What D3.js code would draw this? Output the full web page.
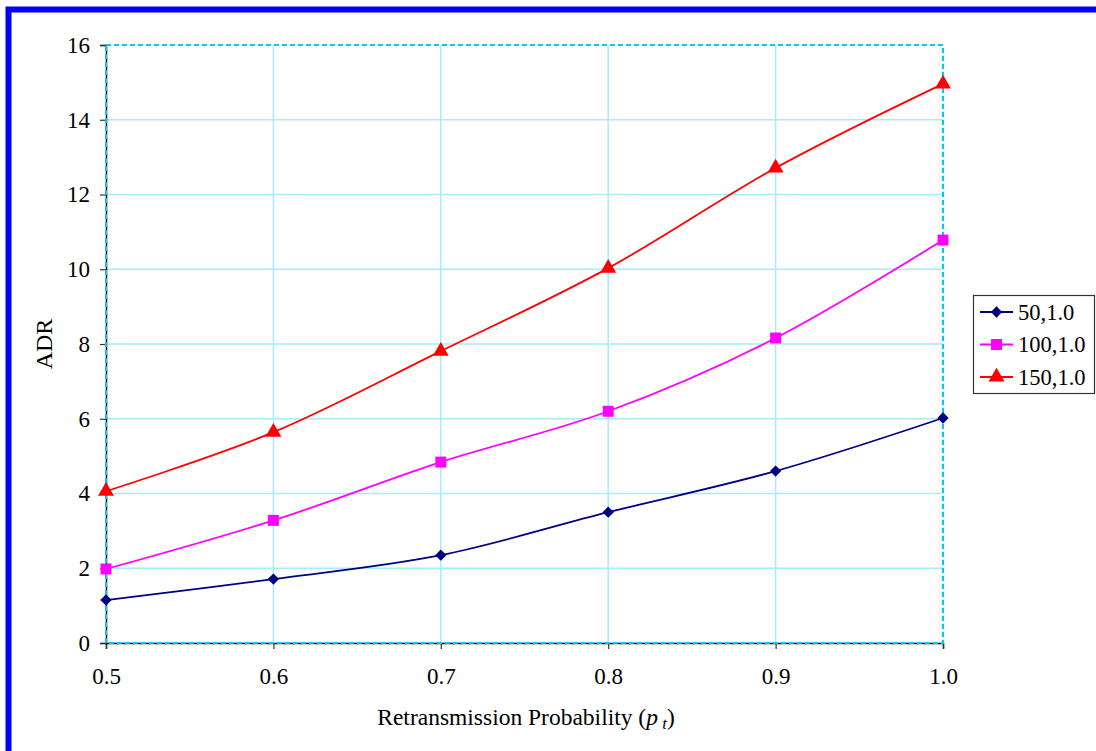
<!DOCTYPE html>
<html>
<head>
<meta charset="utf-8">
<script src="https://cdn.jsdelivr.net/npm/d3@7"></script>
<style>
  html, body { margin: 0; padding: 0; background: #fff; }
  svg { display: block; }
  text { font-family: "Liberation Serif", "Times New Roman", serif; fill: #000; }
</style>
</head>
<body>
<svg id="chart" width="1096" height="751"></svg>
<script>
// Retransmission probability values on the x axis
const probabilities = [0.5, 0.6, 0.7, 0.8, 0.9, 1.0];
// ADR for each configuration
const series50 = [1.15, 1.71, 2.35, 3.50, 4.60, 6.02];
const series100 = [1.98, 3.28, 4.84, 6.20, 8.16, 10.78];
const series150 = [4.06, 5.64, 7.81, 10.03, 12.71, 14.96];
const seriesNames = ["50,1.0", "100,1.0", "150,1.0"];
const xTicks = [0.5, 0.6, 0.7, 0.8, 0.9, 1.0];
const yTicks = [0, 2, 4, 6, 8, 10, 12, 14, 16];

const seriesList = [
  { name: seriesNames[0], values: series50, color: "#000080", shape: "diamond" },
  { name: seriesNames[1], values: series100, color: "#FF00FF", shape: "square" },
  { name: seriesNames[2], values: series150, color: "#FF0000", shape: "triangle" }
];

const svg = d3.select("#chart");

// outer blue frame
svg.append("rect")
  .attr("x", 8.5).attr("y", 9.5)
  .attr("width", 1200).attr("height", 900)
  .attr("fill", "none").attr("stroke", "#0000FF").attr("stroke-width", 6);

const plot = { left: 106, top: 45, right: 943, bottom: 643 };

const x = d3.scaleLinear().domain([0.5, 1.0]).range([plot.left, plot.right]);
const y = d3.scaleLinear().domain([0, 16]).range([plot.bottom, plot.top]);

// gridlines
const grid = svg.append("g");
grid.selectAll("line.h").data(yTicks.filter(d => d > 0 && d < 16)).join("line")
  .attr("x1", plot.left).attr("x2", plot.right)
  .attr("y1", d => y(d)).attr("y2", d => y(d))
  .attr("stroke", "#A6ECFA").attr("stroke-width", 1.5);
grid.selectAll("line.v").data(xTicks.filter(d => d > 0.5 && d < 1.0)).join("line")
  .attr("y1", plot.top).attr("y2", plot.bottom)
  .attr("x1", d => x(d)).attr("x2", d => x(d))
  .attr("stroke", "#A6ECFA").attr("stroke-width", 1.5);

// axes
const xAxis = svg.append("g")
  .attr("transform", `translate(0,${plot.bottom})`)
  .call(d3.axisBottom(x).tickValues(xTicks).tickFormat(d3.format(".1f")).tickSizeOuter(0).tickSize(6).tickPadding(19));
const yAxis = svg.append("g")
  .attr("transform", `translate(${plot.left},0)`)
  .call(d3.axisLeft(y).tickValues(yTicks).tickSizeOuter(0).tickSize(6).tickPadding(10));
[xAxis, yAxis].forEach(a => {
  a.select(".domain").attr("stroke", "#000").attr("stroke-width", 1.5);
  a.selectAll(".tick line").attr("stroke", "#333").attr("stroke-width", 1.2);
  a.selectAll(".tick text").style("font-family", "'Liberation Serif', serif").style("font-size", "23px").attr("fill", "#000");
});

// dashed plot-area border
svg.append("rect")
  .attr("x", plot.left).attr("y", plot.top)
  .attr("width", plot.right - plot.left).attr("height", plot.bottom - plot.top)
  .attr("fill", "none").attr("stroke", "#00C8F5").attr("stroke-width", 2)
  .attr("stroke-dasharray", "5,3");

// series lines
const line = d3.line()
  .x((d, i) => x(probabilities[i]))
  .y(d => y(d))
  .curve(d3.curveCatmullRom.alpha(0));

// diamonds are squares turned by 45 degrees
const symbolFor = { diamond: d3.symbolSquare, square: d3.symbolSquare, triangle: d3.symbolTriangle };
const sizeFor = { diamond: 64, square: 120, triangle: 110 };
const turnFor = { diamond: 45, square: 0, triangle: 0 };

seriesList.forEach(s => {
  svg.append("path")
    .attr("d", line(s.values))
    .attr("fill", "none").attr("stroke", s.color).attr("stroke-width", 1.8);
  svg.append("g").selectAll("path").data(s.values).join("path")
    .attr("transform", (d, i) => `translate(${x(probabilities[i])},${y(d)}) rotate(${turnFor[s.shape]})`)
    .attr("d", d3.symbol().type(symbolFor[s.shape]).size(sizeFor[s.shape]))
    .attr("fill", s.color);
});

// axis titles
svg.append("text")
  .attr("transform", `translate(52,${(plot.top + plot.bottom) / 2}) rotate(-90)`)
  .attr("text-anchor", "middle")
  .style("font-size", "24px")
  .text("ADR");

const xt = svg.append("text")
  .attr("x", 526).attr("y", 725)
  .attr("text-anchor", "middle")
  .style("font-size", "23.5px");
xt.append("tspan").text("Retransmission Probability (");
xt.append("tspan").attr("font-style", "italic").text("p");
xt.append("tspan").attr("font-style", "italic").attr("dy", 4).style("font-size", "17px").text(" t");
xt.append("tspan").attr("dy", -4).text(")");

// legend
const legend = svg.append("g").attr("transform", "translate(973,295)");
legend.append("rect")
  .attr("x", 0.5).attr("y", 0.5).attr("width", 121).attr("height", 98)
  .attr("fill", "#fff").attr("stroke", "#333").attr("stroke-width", 1.2);
seriesList.forEach((s, i) => {
  const gy = 17 + i * 32.5;
  legend.append("line")
    .attr("x1", 7).attr("x2", 40).attr("y1", gy).attr("y2", gy)
    .attr("stroke", s.color).attr("stroke-width", 1.8);
  legend.append("path")
    .attr("transform", `translate(23.5,${gy}) rotate(${turnFor[s.shape]})`)
    .attr("d", d3.symbol().type(symbolFor[s.shape]).size(sizeFor[s.shape]))
    .attr("fill", s.color);
  legend.append("text")
    .attr("x", 45).attr("y", gy + 7.5)
    .style("font-size", "22.5px")
    .text(s.name);
});
</script>
</body>
</html>
